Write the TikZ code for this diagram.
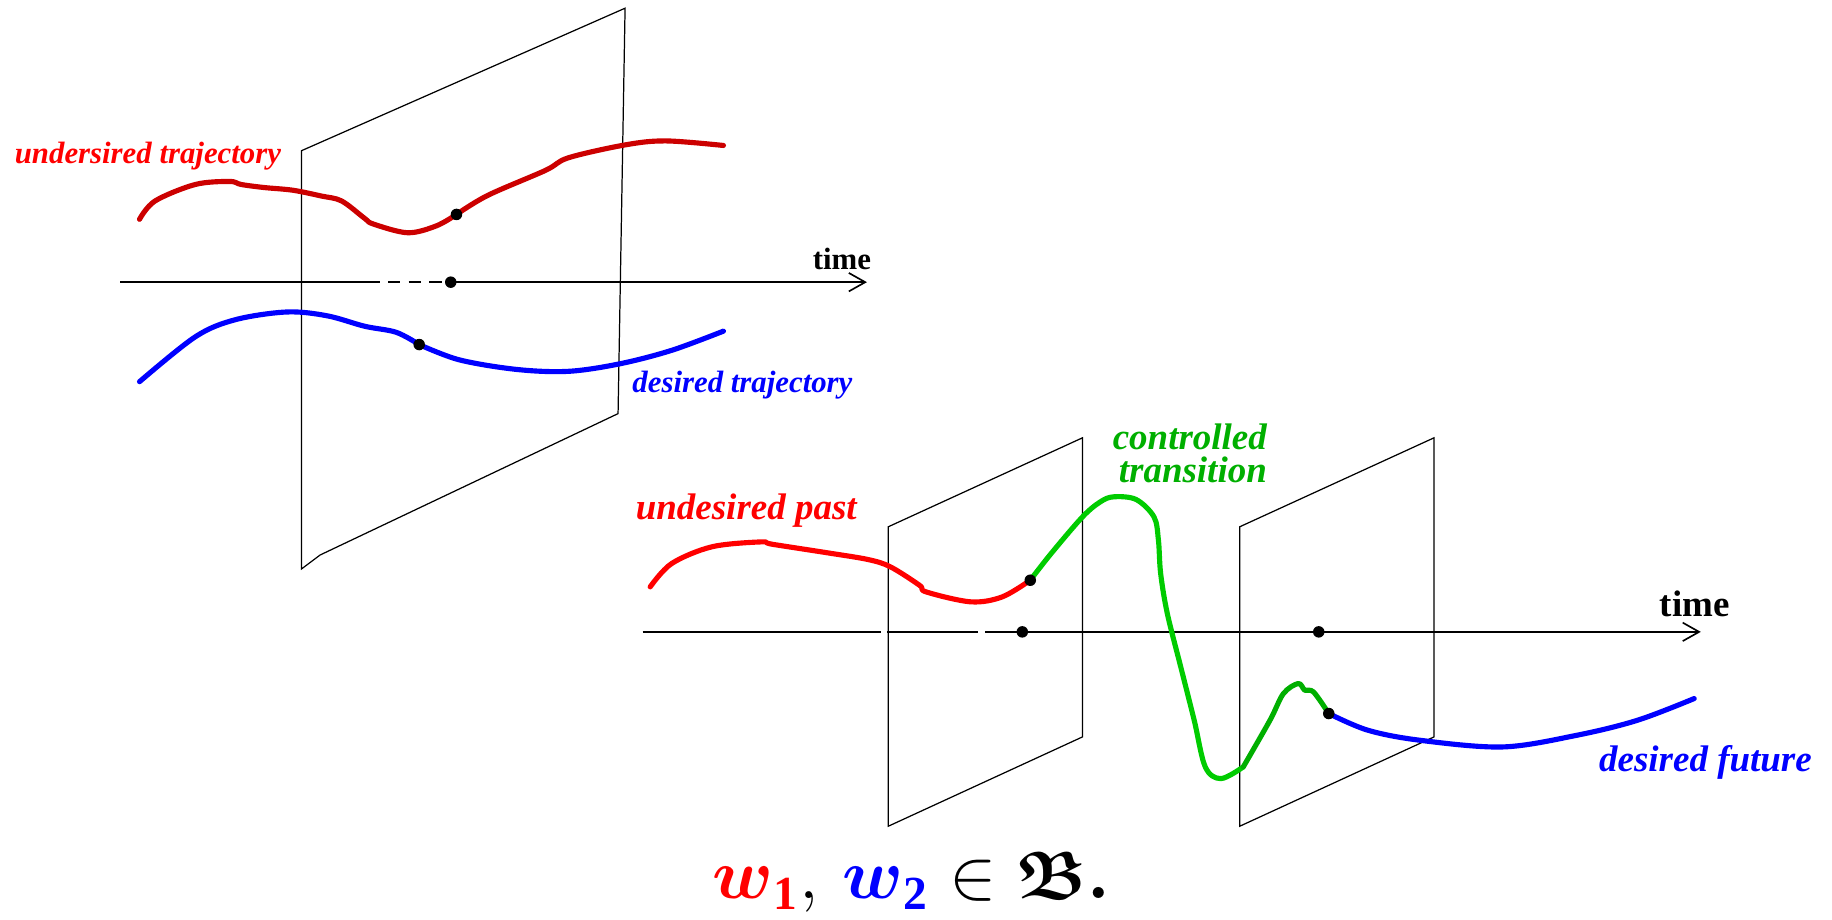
\documentclass[tikz,border=0pt]{standalone}
\usepackage{amsmath,amssymb}
\usepackage{fontspec}
\setmainfont{Liberation Serif}
\usetikzlibrary{arrows.meta}
\definecolor{pastred}{RGB}{204,0,0}
\definecolor{purered}{RGB}{255,0,0}
\definecolor{ctrlgreen}{RGB}{0,204,0}
\definecolor{ctrldark}{RGB}{0,175,0}
\definecolor{goodblue}{RGB}{0,0,255}

\begin{document}
\begin{tikzpicture}[x=0.01cm, y=-0.01cm,
    plane/.style={draw, line width=0.3pt},
    axis/.style={line width=0.4pt, -{Straight Barb[length=4pt, width=4.5pt]}},
    traj/.style={line width=1.25pt, line cap=round, line join=round},
    lbl/.style={font=\bfseries\itshape\fontsize{7.5}{8}\selectfont,
                inner sep=0pt, anchor=base west},
    biglbl/.style={font=\bfseries\itshape\fontsize{9}{10}\selectfont,
                   inner sep=0pt, anchor=base west},
    dot/.style={circle, fill=black, inner sep=0pt, minimum size=2.8pt}
  ]
  \useasboundingbox (0,0) rectangle (1568,787);

  % upper picture: one cut
  \draw[plane] (258,129) -- (535,7) -- (529,354) -- (274,475) -- (258,487) -- cycle;

  \coordinate (t0) at (103,241.5);
  \coordinate (t1) at (742,241.5);
  \draw[line width=0.4pt] (t0) -- (314.6,241.5);
  \draw[line width=0.4pt, densely dashed] (314.6,241.5) -- (385.8,241.5);
  \draw[axis] (385.8,241.5) -- (t1);
  \node[lbl, font=\bfseries\fontsize{7.5}{8}\selectfont] (time1) at (695,231) {time};

  \draw[traj, pastred] plot[smooth, tension=0.55] coordinates {
    (119.4,187.7) (132.7,172) (167.1,157.9) (196.6,155.3) (206.4,157.9)
    (226,160.5) (250.6,162.8) (275.2,167.8) (292.4,172) (312,186.8)
    (319.5,191.7) (349,199.2) (373.5,193.3) (390.7,183.5)};
  \draw[traj, pastred] plot[smooth, tension=0.55] coordinates {
    (390.7,183.5) (417.7,167.1) (466.9,145.8) (486.6,135) (535.7,123.9)
    (570.1,120.6) (619.2,124.5)};

  \draw[traj, goodblue] plot[smooth, tension=0.55] coordinates {
    (119.4,326.7) (167.1,288.3) (201.5,273.6) (245.7,267) (280.1,270.3)
    (312,279.2) (339.1,284.4) (358.8,294.9)};
  \draw[traj, goodblue] plot[smooth, tension=0.55] coordinates {
    (358.8,294.9) (393.2,308) (442.3,316.2) (486.6,317.8) (530.8,311.3)
    (575,299.8) (619.2,283.4)};

  \node[dot] (tnow) at (385.8,241.5) {};
  \node[dot] (junc1) at (390.7,183.5) {};
  \node[dot] (junc2) at (358.8,294.9) {};

  \node[lbl, text=purered] (undes) at (12,140) {undersired trajectory};
  \node[lbl, text=goodblue] (des) at (540.6,335.8) {desired trajectory};

  % lower picture: two cuts
  \draw[plane] (760.2,450.9) -- (926.5,374.7) -- (926.5,630.7) -- (760.2,707.2) -- cycle;
  \draw[plane] (1061,450.9) -- (1227.4,374.7) -- (1227.4,630.7) -- (1061,707.2) -- cycle;

  \coordinate (b0) at (550,540.8);
  \coordinate (b1) at (1455.7,540.8);
  \draw[line width=0.4pt] (b0) -- (754.3,540.8);
  \draw[line width=0.4pt] (759.4,540.8) -- (837.3,540.8);
  \draw[line width=0.4pt] (843.3,540.8) -- (875,540.8);
  \draw[line width=0.6pt] (875,540.8) -- (926.5,540.8);
  \draw[axis] (926.5,540.8) -- (b1);
  \node[biglbl, font=\bfseries\fontsize{9}{10}\selectfont] (time2) at (1420,528) {time};

  \coordinate (dip) at (1064.1,656.4);
  \draw[traj, purered] plot[smooth, tension=0.55] coordinates {
    (556.5,502.3) (574.9,482.3) (609.3,468) (651.3,463.8) (660.9,465.8)
    (708.6,473.2) (743,478.9) (762.2,485.2) (787,500.9) (792.7,506.6)
    (830.9,515.1) (857.7,510.9) (881.8,496.6)};
  \draw[traj, ctrlgreen] plot[smooth, tension=0.55] coordinates {
    (881.8,496.6) (899.7,473.7) (926.5,442.4) (941.8,429.5) (953.3,425.2)
    (972.4,427.5) (987.7,442.4) (991.5,462.3) (993.4,490.9) (999.1,525.1)
    (1010.6,570.8) (1022.1,616.4) (1031.6,656.4) (1045,666.4) (dip)};
  \draw[traj, ctrldark] plot[smooth, tension=0.55] coordinates {
    (dip) (1087,616.4) (1098.5,593.6) (1111.2,585) (1116.8,590.8)
    (1124.2,592.2) (1137.3,610.7)};
  \draw[traj, goodblue] plot[smooth, tension=0.55] coordinates {
    (1137.3,610.7) (1170.8,625) (1215.5,633.6) (1286.2,639.3)
    (1349.6,629.3) (1401.7,616.4) (1450,597.9)};

  \node[dot] (cut1) at (875,540.8) {};
  \node[dot] (cut2) at (1128.7,540.8) {};
  \node[dot] (enter) at (881.8,496.6) {};
  \node[dot] (leave) at (1137.3,610.7) {};

  \node[biglbl, text=purered] (past) at (543.5,444.6) {undesired past};
  \node[biglbl, text=ctrldark, anchor=base east] (ctrl) at (1085,385) {controlled};
  \node[biglbl, text=ctrldark, anchor=base east] (trans) at (1085,413) {transition};
  \node[biglbl, text=goodblue] (future) at (1368,660.7) {desired future};

  \node[inner sep=0pt, anchor=base, font=\fontsize{16.5}{20}\selectfont] (eqn)
    at (780,769) {$\color{purered}\boldsymbol{w}_{\mathbf{1}}\color{black},\,
      \color{goodblue}\boldsymbol{w}_{\mathbf{2}}\color{black}\in
      \boldsymbol{\mathfrak{B}}\boldsymbol{.}$};
\end{tikzpicture}
\end{document}
